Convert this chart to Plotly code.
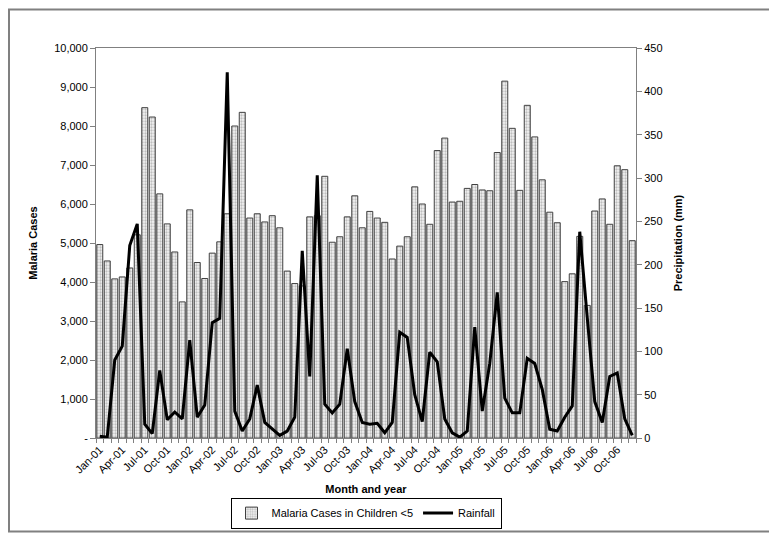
import plotly.graph_objects as go

# monthly labels Jan-01 .. Dec-06
month_names = ["Jan", "Feb", "Mar", "Apr", "May", "Jun",
               "Jul", "Aug", "Sep", "Oct", "Nov", "Dec"]
years = ["01", "02", "03", "04", "05", "06"]
months = [f"{m}-{y}" for y in years for m in month_names]

# malaria cases in children <5
cases = [
    4960, 4540, 4080, 4130, 4360, 5210, 8470, 8230, 6260, 5490, 4770, 3490,
    5850, 4500, 4090, 4740, 5030, 5750, 8000, 8350, 5640, 5750, 5540, 5700,
    5390, 4280, 3960, 3900, 5670, 5700, 6710, 5020, 5160, 5670, 6210, 5390,
    5810, 5640, 5530, 4590, 4920, 5160, 6440, 6000, 5480, 7370, 7690, 6050,
    6070, 6400, 6500, 6360, 6340, 7320, 9150, 7940, 6350, 8530, 7720, 6620,
    5790, 5520, 4010, 4210, 5170, 3400, 5820, 6130, 5480, 6980, 6880, 5060,
]

# rainfall, mm
rainfall = [
    2, 1, 90, 106, 222, 247, 16, 5, 78, 21, 30, 22,
    113, 24, 38, 133, 138, 422, 31, 8, 22, 61, 18, 11,
    3, 8, 24, 216, 71, 303, 39, 29, 39, 103, 42, 18,
    16, 17, 6, 18, 122, 116, 50, 19, 99, 88, 22, 6,
    1, 8, 128, 31, 86, 168, 46, 29, 29, 92, 86, 56,
    10, 8, 24, 37, 238, 139, 42, 18, 71, 75, 22, 3,
]

case_ticks = list(range(0, 10001, 1000))
case_ticktext = ["-"] + [f"{v:,}" for v in case_ticks[1:]]
rain_ticks = list(range(0, 451, 50))

# only every third month gets a label
x_ticktext = [m if i % 3 == 0 else "" for i, m in enumerate(months)]

FONT = "Liberation Sans, Arial, sans-serif"
AXIS_GREY = "#808080"

# plot area in pixels
W, H = 777, 533
L, R, T, B = 88, 628, 40, 436
pw, ph = R - L, B - T

fig = go.Figure()
fig.add_trace(go.Bar(
    x=months, y=cases, name="Malaria Cases in Children <5",
    marker=dict(color="#f2f2f2",
                line=dict(color="#404040", width=1),
                pattern=dict(shape=".", fgcolor="#8a8a8a", size=3, solidity=0.45)),
))
fig.add_trace(go.Scatter(
    x=months, y=rainfall, name="Rainfall", yaxis="y2",
    mode="lines", line=dict(color="black", width=3),
))

fig.update_layout(
    width=W, height=H,
    margin=dict(l=L, r=W - R, t=T, b=H - B),
    paper_bgcolor="white", plot_bgcolor="white",
    font=dict(family=FONT, size=11, color="black"),
    bargap=0.2,
    showlegend=True,
    legend=dict(orientation="h", x=0.5, xanchor="center",
                y=(B - 528) / ph, yanchor="bottom",
                bordercolor="black", borderwidth=1,
                font=dict(size=11), itemwidth=30),
    xaxis=dict(
        type="category", tickmode="array", tickvals=months, ticktext=x_ticktext,
        tickangle=-45, tickson="boundaries", ticks="outside", ticklen=4,
        tickcolor=AXIS_GREY, showline=True, linecolor=AXIS_GREY, mirror=True,
        showgrid=False,
        title=dict(text="<b>Month and year</b>", font=dict(size=11), standoff=10),
    ),
    yaxis=dict(
        range=[0, 10000], tickmode="array", tickvals=case_ticks, ticktext=case_ticktext,
        ticks="outside", ticklen=5, tickcolor=AXIS_GREY,
        showline=True, linecolor=AXIS_GREY, showgrid=False, zeroline=False,
        title=dict(text="<b>Malaria Cases</b>", font=dict(size=11), standoff=14),
    ),
    yaxis2=dict(
        range=[0, 450], tickmode="array", tickvals=rain_ticks,
        overlaying="y", side="right",
        ticks="outside", ticklen=5, tickcolor=AXIS_GREY,
        showline=True, linecolor=AXIS_GREY, showgrid=False, zeroline=False,
        title=dict(text="<b>Precipitation (mm)</b>", font=dict(size=11), standoff=12),
    ),
)

# grey frame around the whole chart
fig.add_shape(type="rect", xref="paper", yref="paper",
              x0=(1 - L) / pw, x1=(W - 2 - L) / pw,
              y0=(B - (H - 2)) / ph, y1=(B - 1) / ph,
              line=dict(color=AXIS_GREY, width=2), layer="below")

fig.write_html("out.html")
